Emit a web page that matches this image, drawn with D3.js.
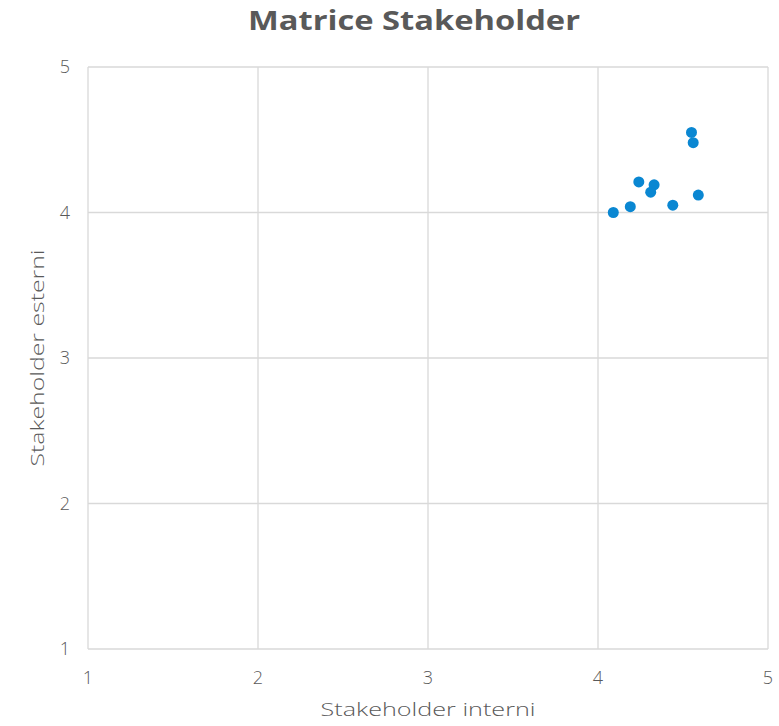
<!DOCTYPE html>
<html>
<head>
<meta charset="utf-8">
<script src="https://cdn.jsdelivr.net/npm/d3@7"></script>
<style>
  body { margin: 0; background: #fff; }
  text { font-family: "Open Sans", sans-serif; fill: #595959; }
</style>
</head>
<body>
<div id="chart"></div>
<script>
// valori
var interni = [4.09, 4.19, 4.24, 4.33, 4.31, 4.44, 4.55, 4.56, 4.59];
var esterni = [4.00, 4.04, 4.21, 4.19, 4.14, 4.05, 4.55, 4.48, 4.12];
var ticks = [1, 2, 3, 4, 5];

var width = 779, height = 726;
var margin = {top: 67, right: 11, bottom: 77, left: 88};

var svg = d3.select("#chart").append("svg")
    .attr("width", width)
    .attr("height", height);

var x = d3.scaleLinear().domain([1, 5]).range([margin.left, width - margin.right]);
var y = d3.scaleLinear().domain([1, 5]).range([height - margin.bottom, margin.top]);

// griglia
svg.append("g")
    .selectAll("line.vx")
    .data(ticks)
    .enter().append("line")
    .attr("x1", function(d) { return x(d); })
    .attr("x2", function(d) { return x(d); })
    .attr("y1", y(1)).attr("y2", y(5))
    .attr("stroke", "#d9d9d9").attr("stroke-width", 1.3);

svg.append("g")
    .selectAll("line.hy")
    .data(ticks)
    .enter().append("line")
    .attr("y1", function(d) { return y(d); })
    .attr("y2", function(d) { return y(d); })
    .attr("x1", x(1)).attr("x2", x(5))
    .attr("stroke", "#d9d9d9").attr("stroke-width", 1.3);

// etichette assi
svg.append("g").selectAll("text")
    .data(ticks)
    .enter().append("text")
    .attr("x", function(d) { return x(d); })
    .attr("y", y(1) + 35)
    .attr("text-anchor", "middle")
    .style("font-size", "18px")
    .style("font-weight", "300")
    .text(function(d) { return d; });

svg.append("g").selectAll("text")
    .data(ticks)
    .enter().append("text")
    .attr("x", x(1) - 18)
    .attr("y", function(d) { return y(d) + 6; })
    .attr("text-anchor", "end")
    .style("font-size", "18px")
    .style("font-weight", "300")
    .text(function(d) { return d; });

// punti
var punti = interni.map(function(v, i) { return {x: v, y: esterni[i]}; });
svg.append("g").selectAll("circle")
    .data(punti)
    .enter().append("circle")
    .attr("cx", function(d) { return x(d.x); })
    .attr("cy", function(d) { return y(d.y); })
    .attr("r", 5.5)
    .attr("fill", "#0a87d2");

// titoli
svg.append("text")
    .attr("x", 414).attr("y", 30)
    .attr("text-anchor", "middle")
    .attr("textLength", 332)
    .attr("lengthAdjust", "spacingAndGlyphs")
    .style("font-size", "26px")
    .style("font-weight", "bold")
    .text("Matrice Stakeholder");

svg.append("text")
    .attr("x", x(3)).attr("y", 716)
    .attr("text-anchor", "middle")
    .attr("textLength", 215)
    .attr("lengthAdjust", "spacingAndGlyphs")
    .style("font-size", "19px")
    .style("font-weight", "300")
    .text("Stakeholder interni");

svg.append("text")
    .attr("transform", "translate(44," + y(3) + ") rotate(-90)")
    .attr("text-anchor", "middle")
    .attr("textLength", 217)
    .attr("lengthAdjust", "spacingAndGlyphs")
    .style("font-size", "19px")
    .style("font-weight", "300")
    .text("Stakeholder esterni");
</script>
</body>
</html>
